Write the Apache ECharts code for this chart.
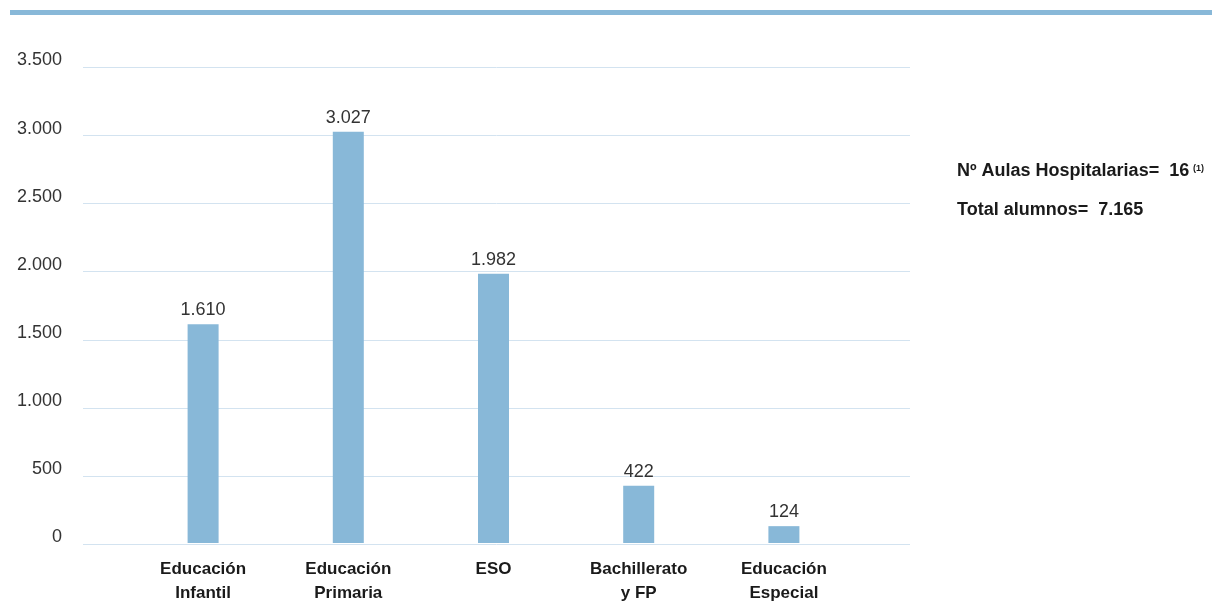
<!DOCTYPE html>
<html><head><meta charset="utf-8">
<script src="https://cdn.jsdelivr.net/npm/echarts@6/dist/echarts.min.js"></script>
<style>html,body{margin:0;padding:0;background:#fff}#c{width:1224px;height:605px}</style>
</head><body><div id="c"></div>
<script>
const categories = ['Educación\nInfantil', 'Educación\nPrimaria', 'ESO', 'Bachillerato\ny FP', 'Educación\nEspecial'];
const values = [1610, 3027, 1982, 422, 124];
const yTicks = [0, 500, 1000, 1500, 2000, 2500, 3000, 3500];
const infoLines = ['Nº Aulas Hospitalarias=  16', 'Total alumnos=  7.165'];

const FONT = "'Liberation Sans', Arial, sans-serif";
const fmt = v => String(v).replace(/\B(?=(\d{3})+(?!\d))/g, '.');
const BAR = '#88b8d8';

const chart = echarts.init(document.getElementById('c'), null, {renderer: 'canvas'});
chart.setOption({
  animation: false,
  grid: [
    {left: 83, right: 314, top: 67.5, bottom: 61},
    {left: 130.5, right: 367.5, top: 67.5, bottom: 61}
  ],
  xAxis: [
    {gridIndex: 0, type: 'category', data: categories, show: false},
    {gridIndex: 1, type: 'category', data: categories,
     axisLine: {show: false}, axisTick: {show: false},
     axisLabel: {interval: 0, margin: 14, fontFamily: FONT, fontWeight: 'bold', fontSize: 17, color: '#1a1a1a', lineHeight: 24}}
  ],
  yAxis: [
    {gridIndex: 0, type: 'value', min: yTicks[0], max: yTicks[yTicks.length - 1], interval: 500,
     axisLine: {show: false}, axisTick: {show: false},
     splitLine: {lineStyle: {color: '#d3e3f0', width: 1}},
     axisLabel: {margin: 21, fontFamily: FONT, fontSize: 18, color: '#333', formatter: v => fmt(v),
                 verticalAlign: 'bottom', lineHeight: 14}},
    {gridIndex: 1, type: 'value', min: yTicks[0], max: yTicks[yTicks.length - 1], interval: 500, show: false}
  ],
  series: [{
    type: 'bar', xAxisIndex: 1, yAxisIndex: 1, data: values, barWidth: 31,
    itemStyle: {color: BAR},
    label: {show: true, position: 'top', distance: 5, fontFamily: FONT, fontSize: 18, color: '#333', formatter: p => fmt(p.value)}
  }],
  graphic: [
    {type: 'rect', shape: {x: 10, y: 10, width: 1202, height: 5}, style: {fill: BAR}},
    {type: 'text', left: 957, top: 162, style: {text: infoLines[0], font: "bold 18px " + FONT, fill: '#1a1a1a'}},
    {type: 'text', left: 1193, top: 164, style: {text: '(1)', font: "bold 9px " + FONT, fill: '#1a1a1a'}},
    {type: 'text', left: 957, top: 201, style: {text: infoLines[1], font: "bold 18px " + FONT, fill: '#1a1a1a'}}
  ]
});
</script></body></html>
